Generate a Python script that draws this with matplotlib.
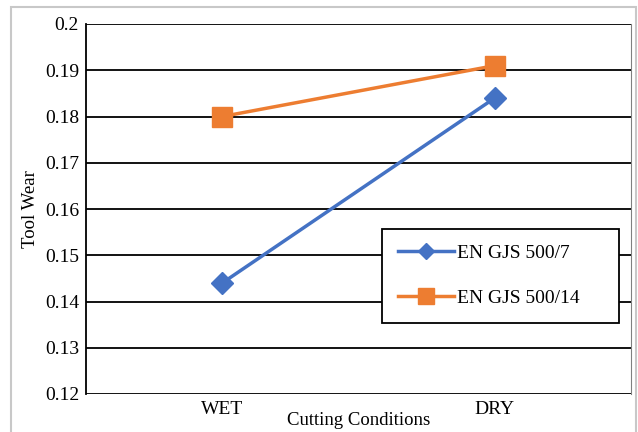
import matplotlib
matplotlib.use("Agg")
import matplotlib.pyplot as plt
from matplotlib.patches import Rectangle

# Datos de desgaste de herramienta
condiciones = ['WET', 'DRY']
gjs_500_7 = [0.144, 0.184]
gjs_500_14 = [0.180, 0.191]
yticks = [0.12, 0.13, 0.14, 0.15, 0.16, 0.17, 0.18, 0.19, 0.2]
ytick_labels = ['0.12', '0.13', '0.14', '0.15', '0.16', '0.17', '0.18', '0.19', '0.2']

plt.rcParams['font.family'] = ['Liberation Serif', 'DejaVu Serif']

fig = plt.figure(figsize=(6.38, 4.32), dpi=100)
ax = fig.add_axes([86 / 638, 1 - 394 / 432, 545 / 638, 370 / 432])

# Marco gris alrededor del gráfico
fig.patches.append(Rectangle((11 / 638, -0.05), 625 / 638, 1 - 7 / 432 + 0.05,
                             transform=fig.transFigure, fill=False,
                             edgecolor='#c8c8c8', linewidth=1.5))

x = [0, 1]
ax.plot(x, gjs_500_7, color='#4472C4', linewidth=2.5, marker='D',
        markersize=11, label='EN GJS 500/7', zorder=3)
ax.plot(x, gjs_500_14, color='#ED7D31', linewidth=2.5, marker='s',
        markersize=14.5, label='EN GJS 500/14', zorder=3)

ax.set_xlim(-0.5, 1.5)
ax.set_ylim(0.12, 0.2)
ax.set_xticks(x)
ax.set_xticklabels(condiciones, fontsize=14)
ax.set_yticks(yticks)
ax.set_yticklabels(ytick_labels, fontsize=14)
ax.tick_params(length=0, pad=5)

# Cuadrícula horizontal negra
for y in yticks:
    ax.axhline(y, color='black', linewidth=1.3, zorder=1)

for lado in ['top', 'bottom']:
    ax.spines[lado].set_visible(False)
ax.spines['left'].set_color('black')
ax.spines['left'].set_linewidth(1.3)
ax.spines['right'].set_color('#808080')

ax.set_ylabel('Tool Wear', fontsize=13.5, labelpad=4)
ax.set_xlabel('Cutting Conditions', fontsize=13.5, labelpad=-4)

# Leyenda en recuadro a la derecha
leg = ax.legend(loc='upper left',
                bbox_to_anchor=(296 / 545, 1 - 205 / 370 - 0.1, 237 / 545, 0.1),
                mode='expand', fontsize=14, frameon=True, fancybox=False,
                edgecolor='black', framealpha=1, borderpad=0.8,
                labelspacing=1.4, handlelength=2.9, handletextpad=0.15,
                borderaxespad=0)
leg.get_frame().set_linewidth(1.3)
leg.set_zorder(5)
leg.legend_handles[0].set_markersize(8)
leg.legend_handles[1].set_markersize(12)

plt.savefig('out.png', dpi=100)
